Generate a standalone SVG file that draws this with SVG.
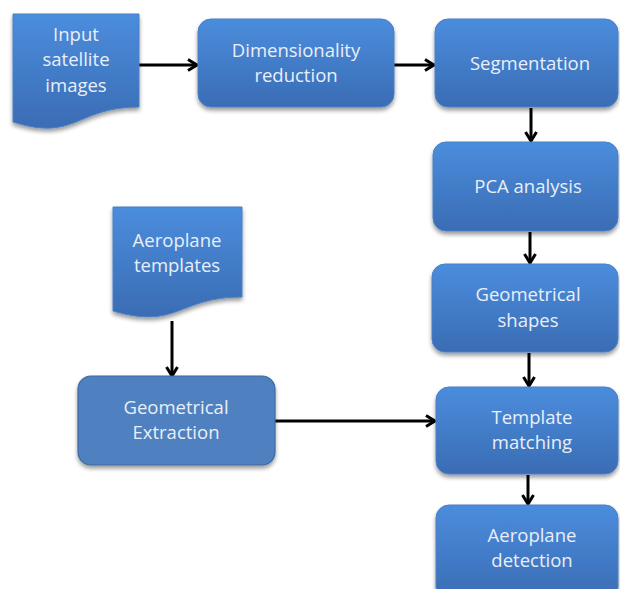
<svg xmlns="http://www.w3.org/2000/svg" width="620" height="589" viewBox="0 0 620 589">
  <defs>
    <linearGradient id="boxFill" x1="0" y1="0" x2="0" y2="1">
      <stop offset="0" stop-color="#4b8ddd"/>
      <stop offset="1" stop-color="#3a6cb4"/>
    </linearGradient>
    <filter id="shadow" x="-10%" y="-10%" width="130%" height="140%">
      <feGaussianBlur in="SourceAlpha" stdDeviation="2"/>
      <feOffset dx="0" dy="3" result="b"/>
      <feComponentTransfer><feFuncA type="linear" slope="0.4"/></feComponentTransfer>
      <feMerge><feMergeNode/><feMergeNode in="SourceGraphic"/></feMerge>
    </filter>
    <marker id="arrow" viewBox="0 0 14 14" refX="12" refY="7" markerWidth="14" markerHeight="14" markerUnits="userSpaceOnUse" orient="auto">
      <path d="M3,1.5 L12,7 L3,12.5" fill="none" stroke="#000" stroke-width="3"/>
    </marker>
  </defs>
  <style>
    .box { fill: url(#boxFill); stroke: #4a7fc6; stroke-width: 1; filter: url(#shadow); }
    .flat { fill: #4f80bf; stroke: #3d6aa3; stroke-width: 1.2; filter: url(#shadow); }
    .label { font-family: "Open Sans", "Liberation Sans", sans-serif; font-size: 18.5px; fill: #e9eff8; text-anchor: middle; }
    .edge { fill: none; stroke: #000; stroke-width: 3; marker-end: url(#arrow); }
  </style>

  <rect width="620" height="589" fill="#ffffff"/>

  <g id="connectors">
    <line class="edge" x1="139" y1="65" x2="197" y2="65"/>
    <line class="edge" x1="394" y1="65" x2="434" y2="65"/>
    <line class="edge" x1="531" y1="108" x2="531" y2="141"/>
    <line class="edge" x1="530" y1="232" x2="530" y2="263"/>
    <line class="edge" x1="529" y1="353" x2="529" y2="386"/>
    <line class="edge" x1="172" y1="321" x2="172" y2="376"/>
    <line class="edge" x1="275" y1="421" x2="435" y2="421"/>
    <line class="edge" x1="528" y1="475" x2="528" y2="504"/>
  </g>

  <g id="input-satellite-images">
    <path class="box" d="M13,14 H139 V107 C76,107 76,142 13,122 Z"/>
    <text class="label" x="76" y="41">Input</text>
    <text class="label" x="76" y="66">satellite</text>
    <text class="label" x="76" y="92">images</text>
  </g>

  <g id="dimensionality-reduction">
    <rect class="box" x="198" y="19" width="196" height="88" rx="13"/>
    <text class="label" x="296" y="57">Dimensionality</text>
    <text class="label" x="296" y="82">reduction</text>
  </g>

  <g id="segmentation">
    <rect class="box" x="435" y="19" width="183" height="88" rx="13"/>
    <text class="label" x="530" y="70">Segmentation</text>
  </g>

  <g id="pca-analysis">
    <rect class="box" x="433" y="142" width="185" height="89" rx="13"/>
    <text class="label" x="528" y="193">PCA analysis</text>
  </g>

  <g id="geometrical-shapes">
    <rect class="box" x="432" y="264" width="186" height="88" rx="13"/>
    <text class="label" x="528" y="301">Geometrical</text>
    <text class="label" x="528" y="327">shapes</text>
  </g>

  <g id="template-matching">
    <rect class="box" x="436" y="387" width="182" height="87" rx="13"/>
    <text class="label" x="532" y="424">Template</text>
    <text class="label" x="532" y="449">matching</text>
  </g>

  <g id="aeroplane-detection">
    <rect class="box" x="436" y="505" width="182" height="95" rx="13"/>
    <text class="label" x="532" y="542">Aeroplane</text>
    <text class="label" x="532" y="567">detection</text>
  </g>

  <g id="aeroplane-templates">
    <path class="box" d="M113,207 H242 V297 C178,297 178,330 113,311 Z"/>
    <text class="label" x="177" y="247">Aeroplane</text>
    <text class="label" x="177" y="272">templates</text>
  </g>

  <g id="geometrical-extraction">
    <rect class="flat" x="78" y="376" width="197" height="89" rx="13"/>
    <text class="label" x="176" y="414">Geometrical</text>
    <text class="label" x="176" y="439">Extraction</text>
  </g>
</svg>
